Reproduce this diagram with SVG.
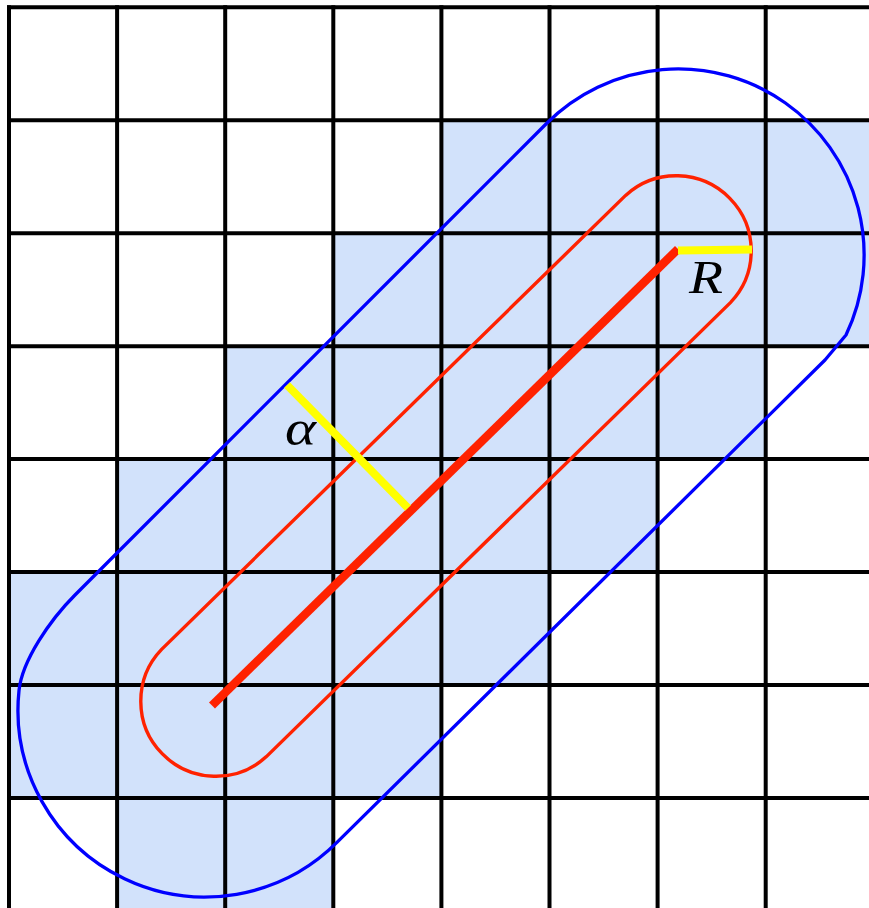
<svg xmlns="http://www.w3.org/2000/svg" width="869" height="908" viewBox="0 0 869 908">
<style>
.cell{fill:#d2e2fb;stroke:none}
.grid{stroke:#000;stroke-width:4;fill:none}
.blue{stroke:#0000ff;stroke-width:3.3;fill:none;stroke-linejoin:round}
.red{stroke:#ff2200;stroke-width:3.4;fill:none}
.seg{stroke:#ff2200;stroke-width:8.5;fill:none;stroke-linecap:butt}
.yel{stroke:#ffff00;stroke-width:8;fill:none;stroke-linecap:butt}
.lbl{font-family:"Liberation Serif","DejaVu Serif",serif;font-style:italic;fill:#000}
</style>
<rect x="0" y="0" width="869" height="908" fill="#ffffff"/>
<g id="shading">
<rect class="cell" x="441.4" y="120.25" width="427.6" height="112.95"/>
<rect class="cell" x="333.3" y="233.2" width="535.7" height="112.95"/>
<rect class="cell" x="225.2" y="346.15" width="540.5" height="112.95"/>
<rect class="cell" x="117.1" y="459.1" width="540.5" height="112.95"/>
<rect class="cell" x="9" y="572.05" width="540.5" height="112.95"/>
<rect class="cell" x="9" y="685" width="432.4" height="112.95"/>
<rect class="cell" x="117.1" y="797.95" width="216.2" height="110.05"/>
</g>
<g id="grid" class="grid">
<line x1="9" y1="5.3" x2="9" y2="908"/>
<line x1="117.1" y1="5.3" x2="117.1" y2="908"/>
<line x1="225.2" y1="5.3" x2="225.2" y2="908"/>
<line x1="333.3" y1="5.3" x2="333.3" y2="908"/>
<line x1="441.4" y1="5.3" x2="441.4" y2="908"/>
<line x1="549.5" y1="5.3" x2="549.5" y2="908"/>
<line x1="657.6" y1="5.3" x2="657.6" y2="908"/>
<line x1="765.7" y1="5.3" x2="765.7" y2="908"/>
<line x1="7" y1="7.3" x2="869" y2="7.3"/>
<line x1="7" y1="120.25" x2="869" y2="120.25"/>
<line x1="7" y1="233.2" x2="869" y2="233.2"/>
<line x1="7" y1="346.15" x2="869" y2="346.15"/>
<line x1="7" y1="459.1" x2="869" y2="459.1"/>
<line x1="7" y1="572.05" x2="869" y2="572.05"/>
<line x1="7" y1="685" x2="869" y2="685"/>
<line x1="7" y1="797.95" x2="869" y2="797.95"/>
</g>
<g id="blue-region">
<path class="blue" d="M 546.5,123.5 A 186 186 0 0 1 846,335 L 825,360 L 337.2,842.2 A 187 187 0 0 1 19,690.5 C 22.1,660.7 50,620 75,595 Z"/>
</g>
<g id="red-capsule">
<path class="red" d="M 161.6,649.4 L 625.6,195.4 A 75 75 0 0 1 730.4,302.6 L 266.4,756.6 A 75 75 0 0 1 161.6,649.4 Z"/>
</g>
<g id="segment">
<line class="seg" x1="212" y1="705.5" x2="678" y2="249"/>
</g>
<g id="radius">
<line class="yel" x1="678" y1="250.5" x2="752" y2="249.5"/>
<text class="lbl" x="689" y="293" font-size="47" textLength="34" lengthAdjust="spacingAndGlyphs">R</text>
</g>
<g id="alpha">
<line class="yel" x1="287" y1="385" x2="408" y2="508"/>
<text class="lbl" x="285" y="445" font-size="50" textLength="31" lengthAdjust="spacingAndGlyphs">α</text>
</g>
</svg>
